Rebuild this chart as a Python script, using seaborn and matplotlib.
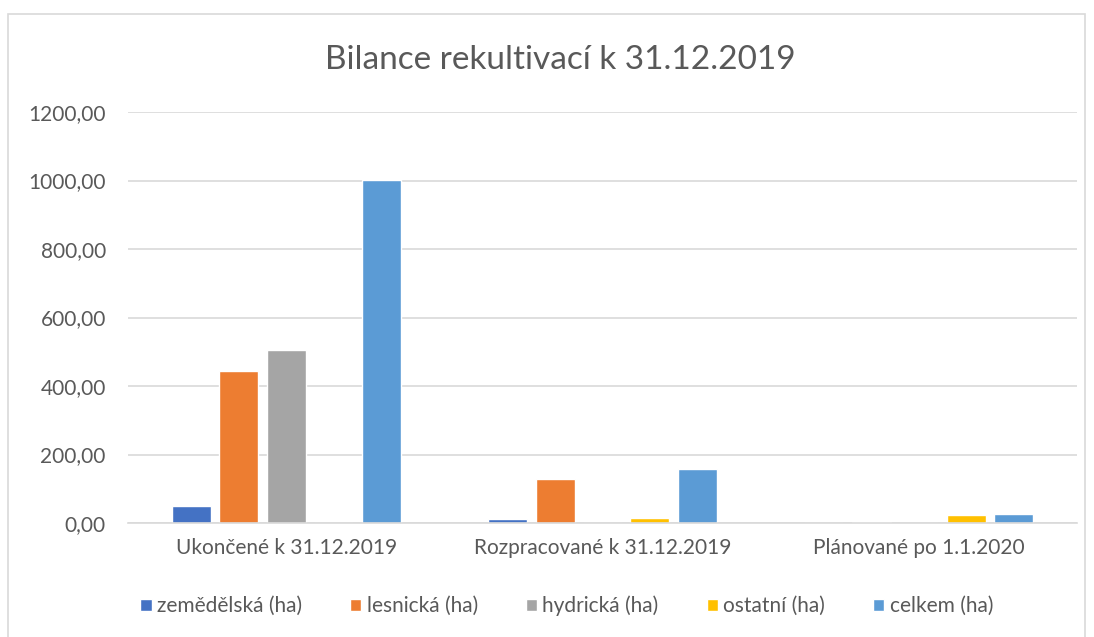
import pandas as pd
import seaborn as sns
import matplotlib.pyplot as plt
from matplotlib.patches import Rectangle
from matplotlib.ticker import FuncFormatter, MultipleLocator

categories = ["Ukončené k 31.12.2019", "Rozpracované k 31.12.2019", "Plánované po 1.1.2020"]
series = ["zemědělská (ha)", "lesnická (ha)", "hydrická (ha)", "ostatní (ha)", "celkem (ha)"]
zemedelska = [50, 11, 0]
lesnicka = [444, 128, 3]
hydricka = [505, 0, 0]
ostatni = [0, 15, 23]
celkem = [1002, 158, 26]
colors = ["#4472C4", "#ED7D31", "#A5A5A5", "#FFC000", "#5B9BD5"]

rows = []
for name, vals in zip(series, [zemedelska, lesnicka, hydricka, ostatni, celkem]):
    for cat, v in zip(categories, vals):
        rows.append({"kategorie": cat, "typ": name, "ha": v})
df = pd.DataFrame(rows)

sns.set_theme(style="white")
plt.rcParams["font.family"] = ["Lato", "DejaVu Sans"]
text_col = "#595959"

fig = plt.figure(figsize=(10.94, 6.37), dpi=100)
ax = fig.add_axes([128 / 1094, 1 - 523 / 637, (1077 - 128) / 1094, (523 - 112) / 637])

sns.barplot(data=df, x="kategorie", y="ha", hue="typ", order=categories, hue_order=series,
            palette=colors, width=0.75, gap=0.18, ax=ax, legend=True, saturation=1)

ax.set_ylim(0, 1200)
ax.set_xlim(-0.5, 2.5)
ax.yaxis.set_major_locator(MultipleLocator(200))
ax.yaxis.set_major_formatter(FuncFormatter(lambda v, _: f"{v:.2f}".replace(".", ",")))
ax.grid(axis="y", color="#D9D9D9", linewidth=1.2)
ax.set_axisbelow(True)
for s in ["left", "right", "top"]:
    ax.spines[s].set_visible(False)
ax.spines["bottom"].set_color("#D9D9D9")
ax.spines["bottom"].set_linewidth(1.2)
ax.tick_params(axis="y", length=0, pad=16, labelsize=15, labelcolor=text_col)
ax.tick_params(axis="x", length=0, pad=11, labelsize=15, labelcolor=text_col)
ax.set_xlabel("")
ax.set_ylabel("")

handles, labels = ax.get_legend_handles_labels()
ax.get_legend().remove()
fig.legend(handles, labels, loc="center", bbox_to_anchor=(0.518, 1 - 606 / 637), ncol=5,
           frameon=False, fontsize=15, labelcolor=text_col, handlelength=0.55,
           handleheight=0.55, handletextpad=0.25, columnspacing=2.3)

fig.text(0.512, 1 - 60 / 637, "Bilance rekultivací k 31.12.2019", ha="center", va="center",
         fontsize=24, color=text_col)

fig.patches.append(Rectangle((8 / 1094, -0.01), (1085 - 8) / 1094, 1 - 14 / 637 + 0.01,
                             transform=fig.transFigure, fill=False, edgecolor="#D9D9D9",
                             linewidth=1.2))

fig.savefig("out.png", dpi=100)
